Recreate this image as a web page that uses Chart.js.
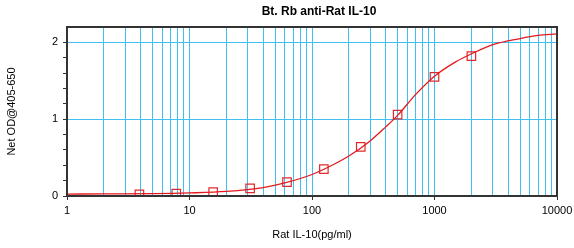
<!DOCTYPE html>
<html>
<head>
<meta charset="utf-8">
<script src="https://cdn.jsdelivr.net/npm/chart.js@4/dist/chart.umd.min.js"></script>
<style>
  html, body { margin: 0; padding: 0; background: #fff; }
  #wrap { width: 574px; height: 248px; }
</style>
</head>
<body>
<div id="wrap"><canvas id="chart" width="574" height="248"></canvas></div>
<script>
// standards (pg/ml) and measured OD
const stdConc = [3.9, 7.8, 15.6, 31.25, 62.5, 125, 250, 500, 1000, 2000];
const stdOD = [0.02, 0.03, 0.05, 0.10, 0.18, 0.35, 0.64, 1.06, 1.55, 1.82];

// fitted curve
const curveConc = [1, 2, 5, 10, 20, 40, 60, 100, 150, 200, 300, 400, 500, 700, 1000, 1500, 2000, 3000, 5000, 7000, 10000];
const curveOD = [0.025, 0.027, 0.03, 0.04, 0.06, 0.11, 0.17, 0.28, 0.41, 0.52, 0.72, 0.90, 1.05, 1.32, 1.56, 1.75, 1.85, 1.97, 2.05, 2.09, 2.11];

// axis ticks
const xMajor = [1, 10, 100, 1000, 10000];
const xMinorSteps = [2, 3, 4, 5, 6, 7, 8, 9];
const yTicks = [0, 0.2, 0.4, 0.6, 0.8, 1, 1.2, 1.4, 1.6, 1.8, 2];
const yLabelled = [0, 1, 2];

const xTicks = [];
xMajor.forEach(function (m, i) {
    xTicks.push(m);
    if (i < xMajor.length - 1) xMinorSteps.forEach(function (s) { xTicks.push(m * s); });
});

const gridBlue = '#3fc0f0';
const axisDark = '#333333';
const font = { family: 'Liberation Sans, Arial, sans-serif', size: 11 };

// title + frame round the plot area
const framePlugin = {
    id: 'frame',
    afterDraw: function (chart) {
        const a = chart.chartArea, ctx = chart.ctx;
        ctx.save();
        ctx.strokeStyle = axisDark;
        ctx.lineWidth = 2;
        ctx.strokeRect(a.left, a.top, a.right - a.left, a.bottom - a.top);
        ctx.fillStyle = '#000';
        ctx.font = 'bold 12px Liberation Sans, Arial, sans-serif';
        ctx.textAlign = 'center';
        ctx.textBaseline = 'middle';
        ctx.fillText('Bt. Rb anti-Rat IL-10', 319, 12);
        ctx.restore();
    }
};

new Chart(document.getElementById('chart'), {
    type: 'scatter',
    data: {
        datasets: [{
            label: 'curve',
            data: curveConc.map(function (x, i) { return { x: x, y: curveOD[i] }; }),
            showLine: true,
            borderColor: '#e3191e',
            borderWidth: 1.3,
            pointRadius: 0,
            cubicInterpolationMode: 'monotone',
            order: 2
        }, {
            label: 'standards',
            data: stdConc.map(function (x, i) { return { x: x, y: stdOD[i] }; }),
            showLine: false,
            pointStyle: 'rect',
            pointRadius: 6,
            borderColor: 'rgba(222,30,34,0.95)',
            backgroundColor: 'rgba(255,255,255,0)',
            borderWidth: 1.2,
            order: 1
        }]
    },
    options: {
        responsive: false,
        animation: false,
        layout: { padding: { left: 0, right: 17, top: 27, bottom: 0 } },
        plugins: { legend: { display: false }, tooltip: { enabled: false } },
        scales: {
            x: {
                type: 'logarithmic',
                min: 1,
                max: 10000,
                afterFit: function (s) { s.height = 52; s.paddingLeft = 0; s.paddingRight = 0; },
                afterBuildTicks: function (s) { s.ticks = xTicks.map(function (v) { return { value: v }; }); },
                ticks: {
                    autoSkip: false,
                    maxRotation: 0,
                    padding: 4,
                    color: '#000',
                    font: font,
                    callback: function (v) { return xMajor.indexOf(v) >= 0 ? String(v) : ''; }
                },
                grid: {
                    color: gridBlue,
                    lineWidth: 1,
                    tickLength: 4,
                    tickColor: function (c) { return c.tick && xMajor.indexOf(c.tick.value) >= 0 ? axisDark : 'rgba(0,0,0,0)'; }
                },
                border: { color: axisDark, width: 2 },
                title: {
                    display: true,
                    text: 'Rat IL-10(pg/ml)',
                    color: '#000',
                    font: font,
                    padding: { top: 0, bottom: 6 }
                }
            },
            y: {
                min: 0,
                max: 2.2,
                afterFit: function (s) { s.width = 67; s.paddingTop = 0; s.paddingBottom = 0; },
                afterBuildTicks: function (s) { s.ticks = yTicks.map(function (v) { return { value: v }; }); },
                ticks: {
                    autoSkip: false,
                    padding: 5,
                    color: '#000',
                    font: font,
                    callback: function (v) { return yLabelled.indexOf(v) >= 0 ? String(v) : ''; }
                },
                grid: {
                    color: function (c) { return c.tick && (c.tick.value === 1 || c.tick.value === 2) ? gridBlue : 'rgba(0,0,0,0)'; },
                    lineWidth: 1,
                    tickLength: 4,
                    tickColor: axisDark
                },
                border: { color: axisDark, width: 2 },
                title: {
                    display: true,
                    text: 'Net OD@405-650',
                    color: '#000',
                    font: font,
                    padding: { top: 5, bottom: 0 }
                }
            }
        }
    },
    plugins: [framePlugin]
});
</script>
</body>
</html>
